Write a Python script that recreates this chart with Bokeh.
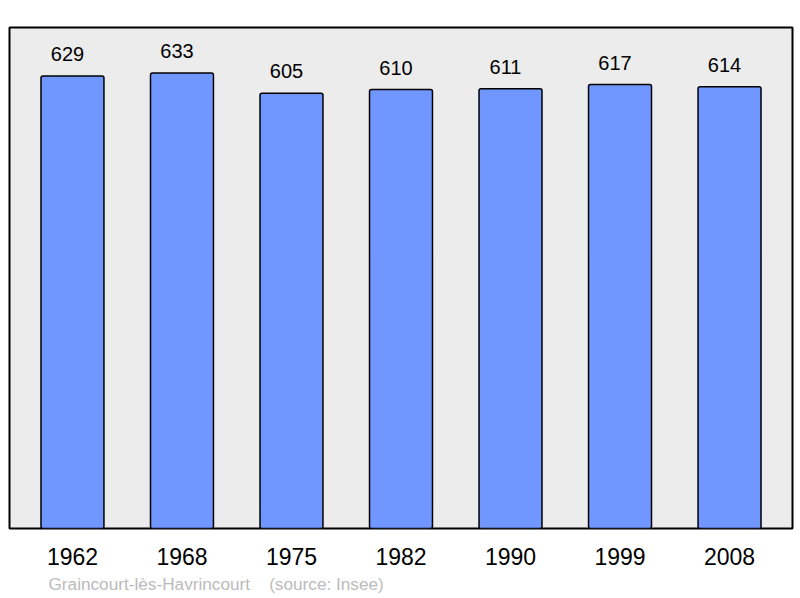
from bokeh.plotting import figure
from bokeh.models import Range1d, ColumnDataSource, FixedTicker, Title
from bokeh.core.properties import value
from bokeh.embed import file_html
from bokeh.resources import INLINE

years = ["1962", "1968", "1975", "1982", "1990", "1999", "2008"]
population = [629, 633, 605, 610, 611, 617, 614]
caption = "Graincourt-lès-Havrincourt\u00a0\u00a0\u00a0\u00a0(source: Insee)"

xs = list(range(len(years)))
src = ColumnDataSource(dict(x=xs, top=population, lbl=[str(v) for v in population]))

p = figure(width=800, height=598, output_backend="svg", toolbar_location=None,
           x_range=Range1d(-0.575, len(years) - 1 + 0.575),
           y_range=Range1d(0, max(population) * 1.1),
           min_border_left=9, min_border_right=8, min_border_top=27, min_border_bottom=70)
p.background_fill_color = "#ECECEC"
p.border_fill_color = "white"
p.outline_line_color = "black"
p.outline_line_width = 2
p.grid.visible = False
p.yaxis.visible = False

p.vbar(x="x", top="top", bottom=0, width=0.575, source=src,
       fill_color="#7096FF", line_color="black", line_width=1.5, border_radius=2)
p.text(x="x", y="top", text="lbl", source=src, x_offset=-5, y_offset=-15,
       text_align="center", text_baseline="bottom",
       text_font=value("Liberation Sans"), text_font_size="20px", text_color="black")

ax = p.xaxis[0]
ax.ticker = FixedTicker(ticks=xs)
ax.major_label_overrides = {i: y for i, y in enumerate(years)}
ax.axis_line_color = None
ax.major_tick_line_color = None
ax.minor_tick_line_color = None
ax.major_label_text_font = "Liberation Sans"
ax.major_label_text_font_size = "23px"
ax.major_label_text_color = "black"
ax.major_label_standoff = 13

p.add_layout(Title(text=caption, align="left", offset=39,
                   text_font="Liberation Sans", text_font_size="17.2px",
                   text_font_style="normal", text_color="#BBBBBB", standoff=9), "below")

open("out.html", "w").write(file_html(p, INLINE))
